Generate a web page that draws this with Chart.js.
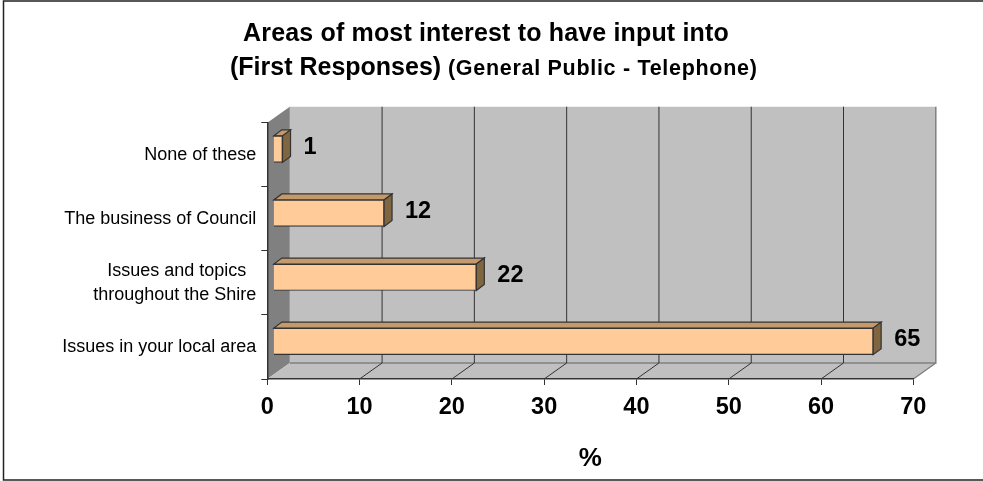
<!DOCTYPE html>
<html><head><meta charset="utf-8">
<style>html,body{margin:0;padding:0;background:#fff;overflow:hidden}canvas{display:block}</style>
<script src="https://cdn.jsdelivr.net/npm/chart.js@4/dist/chart.umd.min.js"></script>
</head><body><canvas id="c" width="983" height="481"></canvas>
<script>
const categories = ['None of these','The business of Council',['Issues and topics  ','throughout the Shire'],'Issues in your local area'];
const values = [1,12,22,65];
const axisTicks = [0,10,20,30,40,50,60,70];
const titleLine1 = 'Areas of most interest to have input into';
const titleLine2a = '(First Responses)';
const titleLine2b = '(General Public - Telephone)';
const axisTitle = '%';

const FONT = '"Liberation Sans", Arial, sans-serif';
const WALL = {dx:22.5, dy:-16};
const BAR = {dx:6, dy:-5.6, depthX:8, depthY:-6};
const DARK = '#333333';

function poly(ctx, pts, fill, stroke, lw){
  ctx.beginPath();
  pts.forEach((p,i)=> i?ctx.lineTo(p[0],p[1]):ctx.moveTo(p[0],p[1]));
  ctx.closePath();
  if(fill){ctx.fillStyle=fill;ctx.fill();}
  if(stroke){ctx.strokeStyle=stroke;ctx.lineWidth=lw||1;ctx.stroke();}
}

const framePlugin = {
  id:'frame',
  beforeDraw(chart){
    const {ctx,chartArea:a,scales:{x}} = chart;
    ctx.save();
    ctx.fillStyle='#fff';ctx.fillRect(0,0,chart.width,chart.height);
    ctx.strokeStyle='#222';ctx.lineWidth=1.5;
    ctx.beginPath();ctx.moveTo(983,1);ctx.lineTo(3.5,1);ctx.lineTo(3.5,480);ctx.lineTo(983,480);ctx.stroke();
    const {dx,dy}=WALL;
    poly(ctx,[[a.left+dx,a.top+dy],[a.right+dx,a.top+dy],[a.right+dx,a.bottom+dy],[a.left+dx,a.bottom+dy]],'#c0c0c0');
    poly(ctx,[[a.left,a.top],[a.left+dx,a.top+dy],[a.left+dx,a.bottom+dy],[a.left,a.bottom]],'#808080');
    poly(ctx,[[a.left,a.bottom],[a.right,a.bottom],[a.right+dx,a.bottom+dy],[a.left+dx,a.bottom+dy]],'#c0c0c0');
    ctx.strokeStyle='#808080';ctx.lineWidth=1.5;
    ctx.beginPath();ctx.moveTo(a.left+dx,a.bottom+dy);ctx.lineTo(a.right+dx,a.bottom+dy);ctx.lineTo(a.right+dx,a.top+dy);ctx.stroke();
    ctx.beginPath();ctx.moveTo(a.right,a.bottom);ctx.lineTo(a.right+dx,a.bottom+dy);ctx.stroke();
    ctx.strokeStyle=DARK;ctx.lineWidth=1;
    axisTicks.forEach(v=>{
      const px=x.getPixelForValue(v);
      if(v===0||v===axisTicks[axisTicks.length-1]) return;
      ctx.beginPath();
      ctx.moveTo(px,a.bottom);ctx.lineTo(px+dx,a.bottom+dy);ctx.lineTo(px+dx,a.top+dy);
      ctx.stroke();
    });
    ctx.fillStyle='#000';ctx.textBaseline='alphabetic';ctx.textAlign='left';
    ctx.font='bold 25px '+FONT;
    ctx.letterSpacing='0.16px';
    const w1=ctx.measureText(titleLine1).width;
    ctx.fillText(titleLine1,486-w1/2,41);
    ctx.letterSpacing='0px';
    ctx.font='bold 25px '+FONT;
    ctx.fillText(titleLine2a,230,74.5);
    ctx.font='bold 21.5px '+FONT;
    ctx.letterSpacing='0.7px';
    ctx.fillText(titleLine2b,448,74.5);
    ctx.restore();
  },
  beforeDatasetDraw(chart){
    const {ctx}=chart;
    ctx.save();
    ctx.translate(BAR.dx,BAR.dy);
    chart.getDatasetMeta(0).data.forEach(el=>{
      const t=el.y-el.height/2,b=el.y+el.height/2,l=el.base,r=el.x,dx=BAR.depthX,dy=BAR.depthY;
      poly(ctx,[[l,t],[r,t],[r+dx,t+dy],[l+dx,t+dy]],'#c49a6c',DARK,1.2);
      poly(ctx,[[r,t],[r+dx,t+dy],[r+dx,b+dy],[r,b]],'#806640',DARK,1.2);
    });
  },
  afterDatasetDraw(chart){
    const {ctx}=chart;
    ctx.restore();
    ctx.save();
    ctx.fillStyle='#000';ctx.font='bold 23.5px '+FONT;ctx.textAlign='left';ctx.textBaseline='middle';
    chart.getDatasetMeta(0).data.forEach((el,i)=>{
      ctx.fillText(String(values[i]),el.x+BAR.dx+21,el.y+BAR.dy-2);
    });
    ctx.restore();
  }
};

new Chart(document.getElementById('c'),{
  type:'bar',
  data:{labels:categories,datasets:[{data:values,backgroundColor:'#ffcc99',borderColor:DARK,borderWidth:1.2,barThickness:26.5}]},
  options:{
    indexAxis:'y',responsive:false,animation:false,devicePixelRatio:1,
    layout:{padding:{left:0,top:122.7,right:69.7,bottom:0}},
    plugins:{legend:{display:false},title:{display:false},tooltip:{enabled:false}},
    scales:{
      x:{type:'linear',min:0,max:70,
        afterBuildTicks(s){s.ticks=axisTicks.map(v=>({value:v}));},
        afterFit(s){s.height=102;},
        grid:{drawOnChartArea:false,drawTicks:true,tickLength:6,color:DARK,lineWidth:1},
        border:{display:true,color:DARK,width:1.5},
        ticks:{color:'#000',font:{family:FONT,size:23.5,weight:'bold'},padding:8,maxRotation:0,autoSkip:false},
        title:{display:true,text:axisTitle,color:'#000',font:{family:FONT,size:26,weight:'bold'},padding:{top:0,bottom:7}}
      },
      y:{type:'category',
        afterFit(s){s.width=267.3;},
        grid:{drawOnChartArea:false,drawTicks:true,tickLength:6,offset:true,color:DARK,lineWidth:1},
        border:{display:true,color:DARK,width:1.5},
        ticks:{color:'#000',font:{family:FONT,size:18,lineHeight:1.333},padding:5,autoSkip:false}
      }
    }
  },
  plugins:[framePlugin]
});
</script></body></html>
